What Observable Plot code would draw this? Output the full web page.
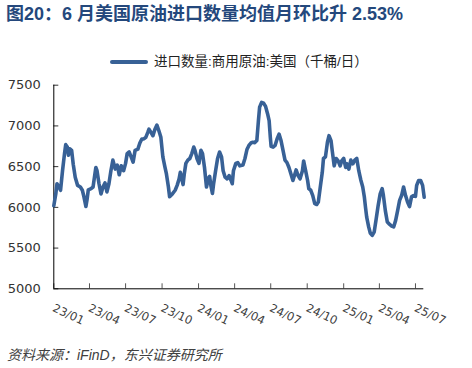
<!DOCTYPE html>
<html>
<head>
<meta charset="utf-8">
<script src="https://cdn.jsdelivr.net/npm/d3@7"></script>
<script src="https://cdn.jsdelivr.net/npm/@observablehq/plot@0.6"></script>
<style>
  html, body { margin: 0; padding: 0; background: #fff; }
  #wrap { position: relative; width: 472px; height: 368px; overflow: hidden; background: #fff; }
  #title { position: absolute; left: 6px; top: 5px; font-family: "Liberation Sans", "Noto Sans CJK SC", sans-serif; font-weight: bold; font-size: 18px; line-height: 18px; color: #24487c; white-space: nowrap; }
  #swatch { position: absolute; left: 110px; top: 60px; width: 38px; height: 3.5px; background: #386196; border-radius: 2px; }
  #legend { position: absolute; left: 154px; top: 55px; font-family: "Liberation Sans", "Noto Sans CJK SC", sans-serif; font-size: 13.5px; line-height: 14px; color: #222; white-space: nowrap; }
  #chart { position: absolute; left: 0; top: 70px; }
  #caption { position: absolute; left: 7px; top: 348px; font-family: "Liberation Sans", "Noto Sans CJK SC", sans-serif; font-style: italic; font-size: 14px; line-height: 14px; color: #404040; white-space: nowrap; }
</style>
</head>
<body>
<div id="wrap">
  <div id="title">图20：6 月美国原油进口数量均值月环比升 2.53%</div>
  <div id="swatch"></div>
  <div id="legend">进口数量:商用原油:美国（千桶/日）</div>
  <div id="chart"></div>
  <div id="caption">资料来源：iFinD，东兴证券研究所</div>
</div>
<script>
const dates = [
  "2023-01-01","2023-01-06","2023-01-09","2023-01-14","2023-01-18","2023-01-23","2023-01-28","2023-01-31","2023-02-04","2023-02-07",
  "2023-02-10","2023-02-15","2023-02-19","2023-02-24","2023-03-02","2023-03-09","2023-03-14","2023-03-18","2023-03-23","2023-03-26",
  "2023-03-29","2023-04-05","2023-04-10","2023-04-17","2023-04-20","2023-04-25","2023-04-30","2023-05-05","2023-05-10","2023-05-15",
  "2023-05-20","2023-05-25","2023-05-30","2023-06-05","2023-06-10","2023-06-15","2023-06-20","2023-06-26","2023-07-01","2023-07-05",
  "2023-07-10","2023-07-15","2023-07-20","2023-07-25","2023-08-01","2023-08-06","2023-08-11","2023-08-16","2023-08-21","2023-08-26",
  "2023-08-29","2023-09-03","2023-09-08","2023-09-13","2023-09-18","2023-09-23","2023-09-28","2023-10-03","2023-10-08","2023-10-12",
  "2023-10-17","2023-10-20","2023-10-27","2023-11-03","2023-11-08","2023-11-13","2023-11-16","2023-11-19","2023-11-23","2023-11-26",
  "2023-11-30","2023-12-05","2023-12-10","2023-12-15","2023-12-20","2023-12-23","2023-12-28","2024-01-02","2024-01-07","2024-01-11",
  "2024-01-16","2024-01-21","2024-01-26","2024-01-29","2024-02-01","2024-02-05","2024-02-08","2024-02-13","2024-02-18","2024-02-23",
  "2024-02-28","2024-03-03","2024-03-08","2024-03-13","2024-03-18","2024-03-23","2024-03-26","2024-03-29","2024-04-04","2024-04-09","2024-04-14",
  "2024-04-22","2024-04-27","2024-05-02","2024-05-07","2024-05-12","2024-05-17","2024-05-22","2024-05-27","2024-05-31","2024-06-03",
  "2024-06-08","2024-06-13","2024-06-18","2024-06-23","2024-06-27","2024-06-30","2024-07-02","2024-07-07","2024-07-12","2024-07-17",
  "2024-07-22","2024-07-27","2024-08-01","2024-08-06","2024-08-11","2024-08-16","2024-08-21","2024-08-26","2024-08-31","2024-09-03",
  "2024-09-08","2024-09-13","2024-09-19","2024-09-22","2024-09-27","2024-10-02","2024-10-05","2024-10-10","2024-10-15","2024-10-20",
  "2024-10-25","2024-10-29","2024-11-03","2024-11-08","2024-11-11","2024-11-16","2024-11-21","2024-11-25","2024-11-30","2024-12-03",
  "2024-12-08","2024-12-13","2024-12-18","2024-12-23","2024-12-27","2025-01-01","2025-01-06","2025-01-09","2025-01-14","2025-01-19",
  "2025-01-24","2025-01-29","2025-02-03","2025-02-08","2025-02-13","2025-02-18","2025-02-22","2025-02-25","2025-02-28","2025-03-05",
  "2025-03-09","2025-03-14","2025-03-19","2025-03-24","2025-03-29","2025-04-03","2025-04-08","2025-04-11","2025-04-16","2025-04-21",
  "2025-04-27","2025-05-02","2025-05-07","2025-05-12","2025-05-17","2025-05-22","2025-05-27","2025-06-01","2025-06-06","2025-06-11",
  "2025-06-16","2025-06-21","2025-06-26","2025-07-01","2025-07-04","2025-07-09","2025-07-14","2025-07-19","2025-07-23"
];
const imports = [
  6020,6165,6290,6250,6210,6450,6660,6770,6740,6640,
  6720,6700,6530,6370,6270,6250,6210,6130,6010,6100,
  6215,6230,6250,6490,6450,6290,6165,6250,6300,6190,
  6290,6450,6580,6470,6520,6400,6510,6450,6540,6660,
  6680,6620,6555,6700,6715,6790,6840,6840,6860,6920,
  6960,6920,6880,6960,7010,6940,6860,6620,6500,6410,
  6250,6130,6165,6210,6270,6350,6430,6370,6280,6410,
  6540,6580,6600,6660,6740,6700,6600,6540,6700,6660,
  6490,6250,6360,6380,6270,6170,6290,6450,6600,6680,
  6620,6450,6370,6350,6390,6330,6290,6450,6540,6550,6510,
  6520,6600,6710,6760,6790,6800,6795,6820,7065,7230,
  7290,7280,7240,7150,7065,6860,6750,6740,6760,6840,
  6900,6820,6700,6580,6550,6490,6410,6330,6410,6460,
  6390,6350,6450,6570,6450,6330,6230,6210,6145,6045,
  6035,6065,6250,6430,6600,6620,6800,6880,6820,6700,
  6510,6600,6570,6510,6570,6600,6490,6535,6470,6580,
  6535,6580,6600,6450,6340,6250,6130,6000,5880,5760,
  5685,5655,5700,5860,6025,6165,6230,6150,5960,5820,
  5790,5770,5760,5840,5960,6085,6145,6250,6145,6065,
  6010,6130,6145,6135,6270,6330,6330,6270,6125
];
const yTicks = [5000, 5500, 6000, 6500, 7000, 7500];
const xTickDates = ["2023-01-01","2023-04-01","2023-07-01","2023-10-01","2024-01-01","2024-04-01","2024-07-01","2024-10-01","2025-01-01","2025-04-01","2025-07-01"];
const xTickLabels = ["23/01","23/04","23/07","23/10","24/01","24/04","24/07","24/10","25/01","25/04","25/07"];
const xDomain = ["2023-01-01", "2025-07-22"];
const yDomain = [5000, 7500];

const parse = d3.utcParse("%Y-%m-%d");
const data = dates.map((d, i) => ({date: parse(d), value: imports[i]})).filter(d => d.value != null);
const tickDates = xTickDates.map(parse);
const lineColor = "#386196";

const chart = Plot.plot({
  width: 472,
  height: 270,
  marginTop: 14.7,
  marginBottom: 51.7,
  marginLeft: 53.3,
  marginRight: 48.7,
  style: {fontFamily: "DejaVu Sans, sans-serif", fontSize: "13px", color: "#333", background: "white", overflow: "visible"},
  x: {type: "utc", domain: xDomain.map(parse)},
  y: {domain: yDomain},
  marks: [
    Plot.axisY({ticks: yTicks, tickSize: 0, tickPadding: 13, label: null, tickFormat: d => String(d), fontSize: 13, fill: "#333"}),
    Plot.axisY({ticks: yTicks, tickSize: 5, dx: 5, label: null, tickFormat: () => "", stroke: "#333"}),
    Plot.axisX({ticks: tickDates, tickSize: 5, dy: -5, label: null, tickFormat: () => "", stroke: "#555"}),
    Plot.text(tickDates, {x: d => d, frameAnchor: "bottom", text: (d, i) => xTickLabels[i], rotate: 25, textAnchor: "start", lineAnchor: "bottom", dx: -2, dy: 22, fontSize: 11.5, fill: "#404040"}),
    Plot.ruleX([parse(xDomain[0])], {stroke: "#000", strokeWidth: 1}),
    Plot.ruleY([yDomain[0]], {stroke: "#000", strokeWidth: 1}),
    Plot.lineY(data, {x: "date", y: "value", stroke: lineColor, strokeWidth: 3.6, strokeLinejoin: "round", strokeLinecap: "round"})
  ]
});
document.getElementById("chart").appendChild(chart);
</script>
</body>
</html>
